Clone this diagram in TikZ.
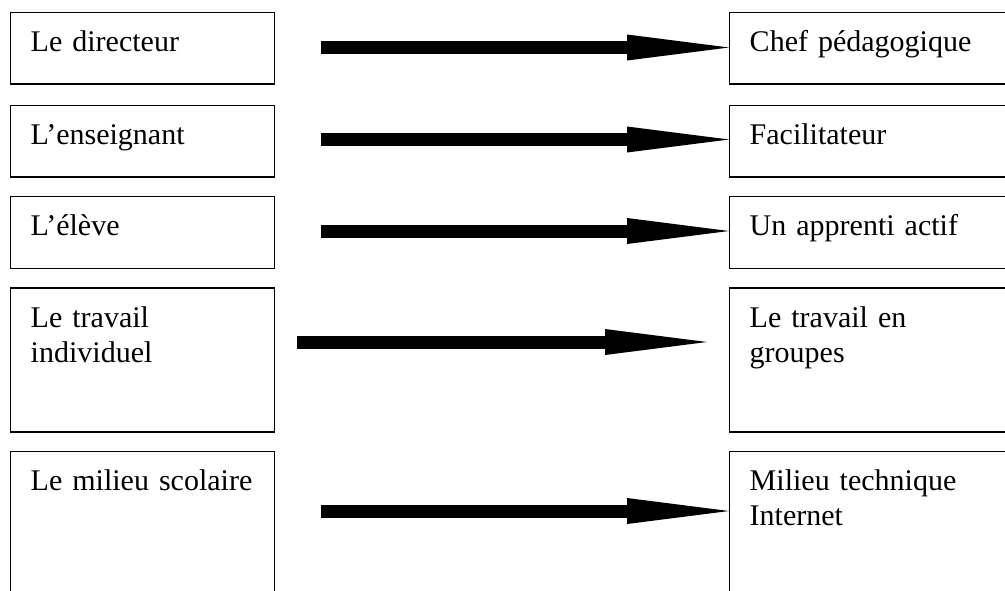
\documentclass[tikz,border=0pt]{standalone}
\usepackage{fontspec}
\setmainfont{Liberation Serif}
\usetikzlibrary{arrows.meta}

\begin{document}
\begin{tikzpicture}
  [x=0.75pt, y=-0.75pt,
    box/.style={draw, line width=1.1pt, anchor=north west, inner xsep=15pt, inner ysep=0pt,
      text height=29.25pt, align=left, font=\fontsize{22.5}{26.25}\selectfont},
    left box/.style={box, text width=168pt},
    right box/.style={box, text width=195pt},
    low/.style={text depth=24.4pt},
    high/.style={text depth=78.75pt},
    deep/.style={text depth=95pt},
    fat arrow/.style={line width=9.75pt, -{Triangle[length=76.5pt, width=19.5pt, line width=0pt]}},
]
\clip (0,0) rectangle (1005,590);

\node[left box, low] (directeur) at (10,11.7) {Le directeur};
\node[left box, low] (enseignant) at (10,104.5) {L’enseignant};
\node[left box, low] (eleve) at (10,196) {L’élève};
\node[left box, high] (individuel) at (10,287.3) {Le travail\\individuel};
\node[left box, deep] (scolaire) at (10,451) {Le milieu scolaire};

\node[right box, low] (chef) at (729,11.7) {Chef pédagogique};
\node[right box, low] (facilitateur) at (729,104.5) {Facilitateur};
\node[right box, low] (apprenti) at (729,196) {Un apprenti actif};
\node[right box, high] (groupes) at (729,287.3) {Le travail en\\groupes};
\node[right box, deep] (technique) at (729,451) {Milieu technique\\Internet};

\coordinate (a1) at (321,47.5);
\coordinate (a2) at (321,139.5);
\coordinate (a3) at (321,231);
\coordinate (a4) at (297,342);
\coordinate (b4) at (707,342);
\coordinate (a5) at (321,511);

\draw[fat arrow] (a1) -- (a1 -| chef.west);
\draw[fat arrow] (a2) -- (a2 -| facilitateur.west);
\draw[fat arrow] (a3) -- (a3 -| apprenti.west);
\draw[fat arrow] (a4) -- (b4);
\draw[fat arrow] (a5) -- (a5 -| technique.west);
\end{tikzpicture}
\end{document}
